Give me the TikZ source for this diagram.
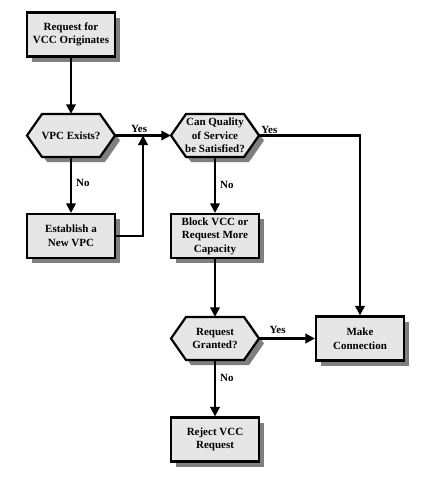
\documentclass[tikz,border=0pt]{standalone}
\usepackage{fontspec}
\setmainfont{Liberation Serif}
\usetikzlibrary{arrows.meta,shadows,calc}
\definecolor{boxfill}{HTML}{E6E6E6}
\definecolor{shadowgray}{HTML}{7F7F7F}
\newcommand{\hexshape}[3]{%
  \fill[shadowgray,shift={(#2)}] (-39,5) -- (-24,-16.5) -- (34,-16.5) -- (49,5) -- (34,26.5) -- (-24,26.5) -- cycle;
  \filldraw[fill=boxfill,draw=black,line width=2.2pt,line join=miter,shift={(#2)}] (-44,0) -- (-29,-21.5) -- (29,-21.5) -- (44,0) -- (29,21.5) -- (-29,21.5) -- cycle;
  \node[hextext] (#1) at (#2) {#3};
}
\begin{document}
\begin{tikzpicture}[x=1pt,y=-1pt,
  txt/.style={font=\bfseries\fontsize{11}{13.5}\selectfont, align=center},
  box/.style={txt, draw=black, line width=2.2pt, fill=boxfill, minimum width=88pt, minimum height=44pt, inner sep=0pt,
    drop shadow={shadow xshift=5pt, shadow yshift=-5pt, fill=shadowgray, opacity=1}},
  hextext/.style={txt, minimum width=88pt, minimum height=43pt, inner sep=0pt},
  arr/.style={line width=2.2pt, line join=miter, -{Triangle[length=9.5pt,width=9.5pt]}},
  lab/.style={font=\bfseries\fontsize{11}{13}\selectfont, inner sep=2pt}]
\useasboundingbox (0,0) rectangle (423,479);
\node[box] (n1) at (71,34.5) {Request for\\VCC Originates};
\hexshape{h1}{71,135.5}{VPC Exists?}
\node[box] (n2) at (71,236) {Establish a\\New VPC};
\hexshape{h2}{215,135.5}{Can Quality\\of Service\\be Satisfied?}
\node[box] (n3) at (215,236) {Block VCC or\\Request More\\Capacity};
\hexshape{h3}{215,338.5}{Request\\Granted?}
\node[box] (n4) at (360,338.5) {Make\\Connection};
\node[box] (n5) at (215,439.5) {Reject VCC\\Request};
\coordinate (j1) at (143,135.5);
\draw[arr] (n1) -- (h1);
\draw[arr] (h1.east) -- (h2.west) node[lab, pos=0.43, anchor=south] {Yes};
\draw[arr] (h1) -- (n2) node[lab, midway, anchor=west, xshift=2pt, yshift=2pt] {No};
\draw[arr] (n2.east) -- (n2.east -| j1) -- (j1);
\draw[arr] (h2.east) -| (n4.north);
\node[lab, anchor=south west] at (h2.east) {Yes};
\draw[arr] (h2) -- (n3) node[lab, midway, anchor=west, xshift=2pt] {No};
\draw[arr] (n3) -- (h3);
\draw[arr] (h3.east) -- (n4.west) node[lab, pos=0.33, anchor=south, yshift=2pt] {Yes};
\draw[arr] (h3) -- (n5) node[lab, pos=0.32, anchor=west, xshift=2pt] {No};
\end{tikzpicture}
\end{document}
